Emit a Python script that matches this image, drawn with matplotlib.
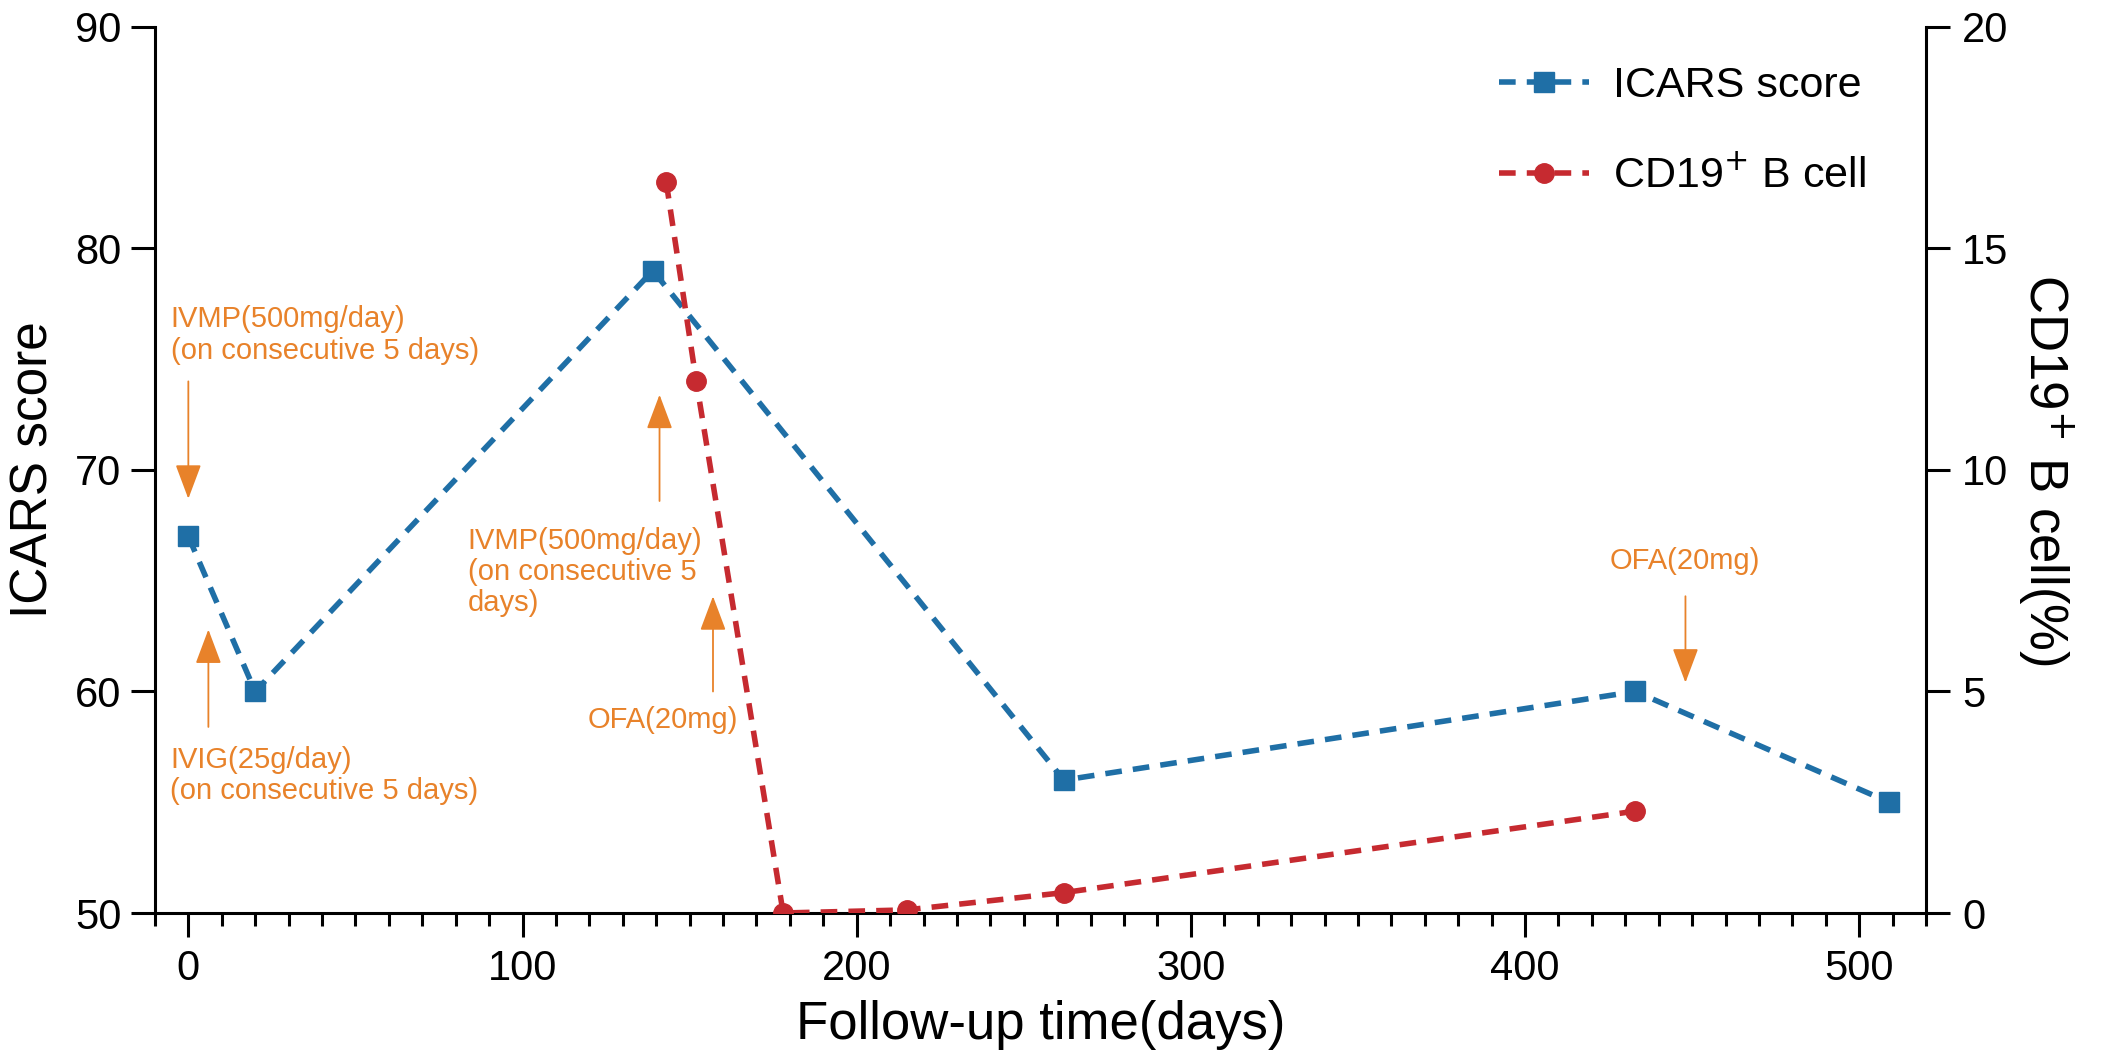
import matplotlib
matplotlib.use("Agg")
import matplotlib.pyplot as plt
from matplotlib.ticker import MultipleLocator

plt.rcParams["font.family"] = ["Liberation Sans", "DejaVu Sans"]

# data
icars_days = [0, 20, 139, 262, 433, 509]
icars_score = [67, 60, 79, 56, 60, 55]
cd19_days = [143, 152, 178, 215, 262, 433]
cd19_pct = [16.5, 12.0, 0.0, 0.07, 0.46, 2.3]

# treatment arrows (day, tail, tip in ICARS units)
arrow_day = [0, 6, 141, 157, 448]
arrow_tail = [74.0, 58.4, 68.6, 60.0, 64.3]
arrow_tip = [68.7, 62.8, 73.4, 64.3, 60.4]

# treatment labels (x, y, text, ha)
note_x = [-5.3, -5.5, 83.6, 164.6, 447.7]
note_y = [76.1, 56.2, 65.4, 58.7, 65.9]
note_ha = ["left", "left", "left", "right", "center"]
note_text = ["IVMP(500mg/day)\n(on consecutive 5 days)",
             "IVIG(25g/day)\n(on consecutive 5 days)",
             "IVMP(500mg/day)\n(on consecutive 5\ndays)",
             "OFA(20mg)",
             "OFA(20mg)"]

blue = "#1f6fa6"
red = "#c62a30"
orange = "#e8822a"

fig = plt.figure(figsize=(21.02, 10.62), dpi=100)
ax = fig.add_axes([0.0737, 0.1403, 0.8426, 0.8343])
ax2 = ax.twinx()

l1, = ax.plot(icars_days, icars_score, color=blue, lw=4, dashes=(3.0, 2.0),
              marker="s", ms=14, label="ICARS score")
l2, = ax2.plot(cd19_days, cd19_pct, color=red, lw=4, dashes=(3.0, 2.0),
               marker="o", ms=14, label="CD19$^{+}$ B cell")

for d, t0, t1 in zip(arrow_day, arrow_tail, arrow_tip):
    ax.annotate("", xy=(d, t1), xytext=(d, t0),
                arrowprops=dict(arrowstyle="-|>,head_length=0.72,head_width=0.27",
                                mutation_scale=30, color=orange, lw=1.3,
                                shrinkA=0, shrinkB=0))

for x, y, s, ha in zip(note_x, note_y, note_text, note_ha):
    ax.text(x, y, s, ha=ha, va="center", color=orange, fontsize=21,
            linespacing=1.15)

ax.set_xlim(-10, 520)
ax.set_ylim(50, 90)
ax2.set_ylim(0, 20)
ax.xaxis.set_major_locator(MultipleLocator(100))
ax.xaxis.set_minor_locator(MultipleLocator(10))
ax.yaxis.set_major_locator(MultipleLocator(10))
ax2.yaxis.set_major_locator(MultipleLocator(5))

for a in (ax, ax2):
    a.spines["top"].set_visible(False)
    for sp in a.spines.values():
        sp.set_linewidth(2.2)
ax.spines["right"].set_visible(False)
ax2.spines["left"].set_visible(False)
ax2.spines["bottom"].set_visible(False)

ax.tick_params(axis="both", which="major", length=17, width=2.2,
               labelsize=30, pad=7)
ax.tick_params(axis="x", which="minor", length=9, width=2.2)
ax.tick_params(axis="x", which="major", pad=9)
ax2.tick_params(axis="y", which="major", length=17, width=2.2,
                labelsize=30, pad=9)

ax.set_xlabel("Follow-up time(days)", fontsize=38, labelpad=8)
ax.set_ylabel("ICARS score", fontsize=37, labelpad=12)
ax2.set_ylabel("CD19$^{+}$ B cell(%)", fontsize=38, rotation=270,
               labelpad=48)

ax2.legend(handles=[l1, l2], loc="upper left", bbox_to_anchor=(0.737, 1.0),
           frameon=False, fontsize=31, handlelength=2.1, handletextpad=0.55,
           labelspacing=1.2)

fig.savefig("out.png", dpi=100)
